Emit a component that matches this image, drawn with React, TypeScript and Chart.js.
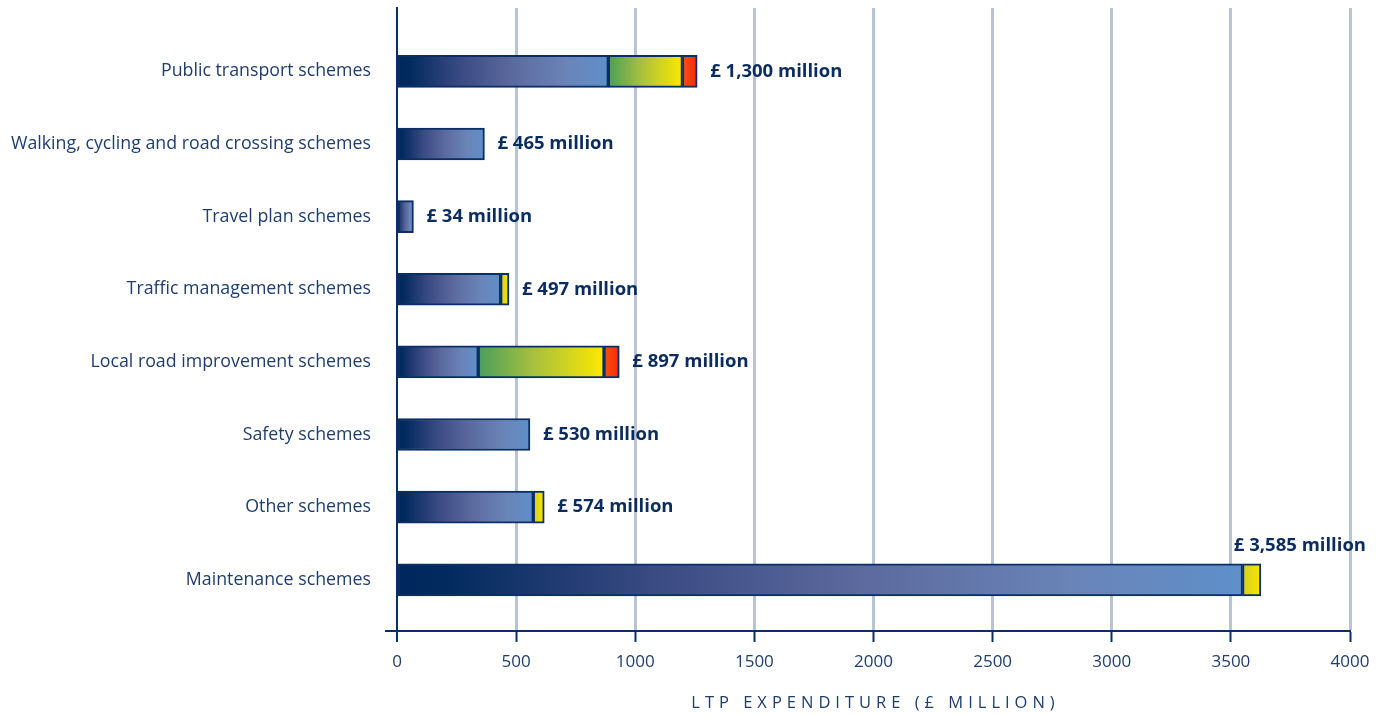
import React, { useEffect, useRef } from "react";
import { Chart, registerables } from "chart.js";

Chart.register(...registerables);

// ---------- data ----------
const categories = [
  "Public transport schemes",
  "Walking, cycling and road crossing schemes",
  "Travel plan schemes",
  "Traffic management schemes",
  "Local road improvement schemes",
  "Safety schemes",
  "Other schemes",
  "Maintenance schemes",
];
const blueSegment = [887, 367, 69, 435, 341, 558, 572, 3549];
const greenSegment = [311, 0, 0, 0, 528, 0, 0, 0];
const redSegment = [62, 0, 0, 0, 64, 0, 0, 0];
const yellowSegment = [0, 0, 0, 35, 0, 0, 46, 77];
const totalLabels = [
  "£ 1,300 million",
  "£ 465 million",
  "£ 34 million",
  "£ 497 million",
  "£ 897 million",
  "£ 530 million",
  "£ 574 million",
  "£ 3,585 million",
];
const xMin = 0;
const xMax = 4000;
const xStep = 500;
const axisTitle = "LTP EXPENDITURE (£ MILLION)";

// ---------- styles ----------
const segments = [blueSegment, greenSegment, redSegment, yellowSegment];
const NAVY = "#0a2f66";
const LABEL_NAVY = "#0b2c5e";
const TEXT_NAVY = "#1f3d6f";
const GRID = "#b8c3d5";
const FONT = "'Open Sans', 'DejaVu Sans', sans-serif";

const segmentStops: [number, string][][] = [
  [
    [0, "#00285e"],
    [0.06, "#032a5f"],
    [0.3, "#3a4a82"],
    [0.55, "#5c6a9e"],
    [0.8, "#6a84b8"],
    [1, "#5f8fc9"],
  ],
  [
    [0, "#4a9e5c"],
    [0.45, "#a9c13c"],
    [1, "#fde800"],
  ],
  [
    [0, "#ff4e12"],
    [1, "#f22a08"],
  ],
  [
    [0, "#d6cf22"],
    [1, "#f9e600"],
  ],
];

function gradientFor(segIndex: number) {
  const stops = segmentStops[segIndex];
  return (ctx: any) => {
    const chart = ctx.chart;
    const raw = ctx.raw;
    const xs = chart.scales?.x;
    if (!chart.chartArea || !raw || !xs) return stops[stops.length - 1][1];
    const i = raw.y;
    let start = 0;
    for (let s = 0; s < segIndex; s++) start += segments[s][i];
    const x0 = xs.getPixelForValue(start);
    const x1 = xs.getPixelForValue(start + segments[segIndex][i]);
    if (!isFinite(x0) || !isFinite(x1) || x1 === x0) return stops[stops.length - 1][1];
    const g = chart.ctx.createLinearGradient(x0, 0, x1, 0);
    stops.forEach(([o, c]) => g.addColorStop(o, c));
    return g;
  };
}

const valueLabelPlugin = {
  id: "valueLabels",
  afterDatasetsDraw(chart: any) {
    const { ctx, scales } = chart;
    const xs = scales.x;
    const ys = scales.y;
    ctx.save();
    ctx.font = `bold 18.5px ${FONT}`;
    ctx.fillStyle = LABEL_NAVY;
    ctx.textBaseline = "middle";
    categories.forEach((_, i) => {
      const total = segments.reduce((a, s) => a + s[i], 0);
      const xEnd = xs.getPixelForValue(total);
      const yc = ys.getPixelForValue(i);
      const text = totalLabels[i];
      const w = ctx.measureText(text).width;
      if (xEnd + 13 + w > chart.width - 4) {
        ctx.textAlign = "right";
        ctx.fillText(text, chart.width - 19, yc - 16 - 18);
      } else {
        ctx.textAlign = "left";
        ctx.fillText(text, xEnd + 13, yc);
      }
    });
    ctx.restore();
  },
};

const axisExtrasPlugin = {
  id: "axisExtras",
  afterDraw(chart: any) {
    const { ctx, chartArea } = chart;
    ctx.save();
    // x-axis line extension to the left of the y-axis
    ctx.strokeStyle = NAVY;
    ctx.lineWidth = 2;
    ctx.beginPath();
    ctx.moveTo(385, chartArea.bottom);
    ctx.lineTo(chartArea.left, chartArea.bottom);
    ctx.stroke();
    // axis title with letter spacing
    ctx.font = `16.5px ${FONT}`;
    ctx.fillStyle = TEXT_NAVY;
    ctx.textBaseline = "middle";
    ctx.textAlign = "center";
    try {
      (ctx as any).letterSpacing = "5px";
    } catch (e) {}
    ctx.fillText(axisTitle, (chartArea.left + chartArea.right) / 2 + 2, 703);
    ctx.restore();
  },
};

export default function App() {
  const canvasRef = useRef<HTMLCanvasElement | null>(null);

  useEffect(() => {
    if (!canvasRef.current) return;
    const datasets = segments.map((seg, sIdx) => ({
      label: `segment ${sIdx + 1}`,
      data: seg
        .map((v, i) => ({ x: v, y: i }))
        .filter((d) => d.x > 0),
      backgroundColor: gradientFor(sIdx),
      borderColor: NAVY,
      borderWidth: 2,
      borderSkipped: false,
      barThickness: 32,
    }));

    const chart = new Chart(canvasRef.current, {
      type: "bar",
      data: { datasets: datasets as any },
      options: {
        indexAxis: "y",
        animation: false,
        responsive: false,
        events: [],
        layout: { padding: { top: 8, right: 35, left: 0, bottom: 0 } },
        plugins: {
          legend: { display: false },
          tooltip: { enabled: false },
        },
        scales: {
          x: {
            type: "linear",
            position: "bottom",
            stacked: true,
            min: xMin,
            max: xMax,
            ticks: {
              stepSize: xStep,
              color: TEXT_NAVY,
              font: { family: FONT, size: 17 },
              padding: 10,
              maxRotation: 0,
              autoSkip: false,
              callback: (v: any) => String(v),
            },
            grid: {
              color: (c: any) => (c.tick && c.tick.value === 0 ? NAVY : GRID),
              lineWidth: (c: any) => (c.tick && c.tick.value === 0 ? 2 : 3),
              drawTicks: true,
              tickLength: 11,
              tickColor: NAVY,
              tickWidth: 2,
            },
            border: { display: true, color: NAVY, width: 2 },
            afterFit: (s: any) => {
              s.height = 84;
            },
          } as any,
          y: {
            type: "linear",
            stacked: true,
            reverse: true,
            offset: false,
            min: -0.873,
            max: 7.705,
            afterBuildTicks: (s: any) => {
              s.ticks = categories.map((_, i) => ({ value: i }));
            },
            ticks: {
              callback: (v: any) => (Number.isInteger(v) ? categories[v] : null),
              color: TEXT_NAVY,
              font: { family: FONT, size: 17.8 },
              padding: 26,
              autoSkip: false,
            },
            grid: { display: false, drawTicks: false, offset: false },
            border: { display: true, color: NAVY, width: 2 },
            afterFit: (s: any) => {
              s.width = 397;
              s.paddingTop = 0;
              s.paddingBottom = 0;
            },
          } as any,
        },
      },
      plugins: [valueLabelPlugin, axisExtrasPlugin],
    });
    return () => chart.destroy();
  }, []);

  return (
    <div style={{ position: "absolute", left: 0, top: 0, width: 1385, height: 715, background: "#fff" }}>
      <canvas ref={canvasRef} width={1385} height={715} style={{ display: "block" }} />
    </div>
  );
}
